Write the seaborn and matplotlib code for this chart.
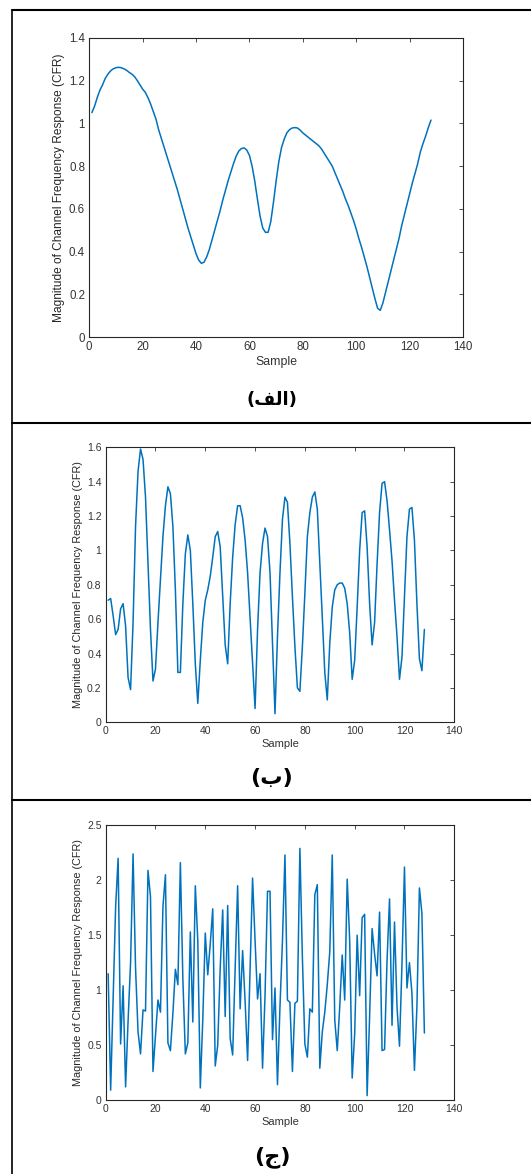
import numpy as np
import pandas as pd
import seaborn as sns
from matplotlib import pyplot as plt
from matplotlib.lines import Line2D
from matplotlib.ticker import FuncFormatter

# smooth channel (panel a)
cfr_a = [
    1.05, 1.08, 1.12, 1.155, 1.18, 1.21, 1.23, 1.245, 1.255, 1.26,
    1.262, 1.26, 1.255, 1.248, 1.238, 1.23, 1.218, 1.20, 1.18, 1.16,
    1.145, 1.12, 1.09, 1.055, 1.02, 0.97, 0.93, 0.89, 0.85, 0.81,
    0.77, 0.73, 0.69, 0.645, 0.60, 0.555, 0.51, 0.47, 0.43, 0.39,
    0.36, 0.345, 0.35, 0.375, 0.41, 0.455, 0.50, 0.545, 0.59, 0.64,
    0.685, 0.73, 0.77, 0.81, 0.845, 0.87, 0.882, 0.885, 0.875, 0.85,
    0.80, 0.73, 0.645, 0.565, 0.51, 0.49, 0.49, 0.54, 0.63, 0.73,
    0.82, 0.885, 0.925, 0.955, 0.97, 0.978, 0.98, 0.978, 0.968, 0.955,
    0.945, 0.935, 0.925, 0.915, 0.905, 0.895, 0.88, 0.86, 0.84, 0.82,
    0.80, 0.77, 0.74, 0.71, 0.68, 0.645, 0.615, 0.58, 0.545, 0.505,
    0.46, 0.42, 0.375, 0.33, 0.28, 0.23, 0.18, 0.135, 0.125, 0.16,
    0.21, 0.26, 0.31, 0.36, 0.41, 0.46, 0.52, 0.57, 0.62, 0.67,
    0.72, 0.765, 0.81, 0.865, 0.905, 0.94, 0.98, 1.015,
]

# moderately selective channel (panel b)
cfr_b = [
    0.71, 0.72, 0.62, 0.51, 0.54, 0.66, 0.69, 0.56, 0.26, 0.19,
    0.58, 1.14, 1.46, 1.59, 1.53, 1.31, 0.93, 0.54, 0.24, 0.31,
    0.58, 0.83, 1.08, 1.26, 1.37, 1.33, 1.14, 0.77, 0.29, 0.29,
    0.69, 0.98, 1.09, 1.00, 0.69, 0.34, 0.11, 0.36, 0.58, 0.71,
    0.77, 0.85, 0.96, 1.08, 1.11, 1.02, 0.73, 0.45, 0.34, 0.69,
    0.96, 1.15, 1.26, 1.26, 1.19, 1.06, 0.87, 0.61, 0.34, 0.08,
    0.54, 0.87, 1.04, 1.13, 1.08, 0.87, 0.46, 0.05, 0.50, 0.87,
    1.18, 1.31, 1.28, 1.04, 0.73, 0.44, 0.20, 0.18, 0.44, 0.75,
    1.08, 1.22, 1.31, 1.34, 1.24, 0.93, 0.61, 0.29, 0.13, 0.46,
    0.67, 0.77, 0.80, 0.81, 0.81, 0.78, 0.69, 0.52, 0.25, 0.36,
    0.67, 1.00, 1.22, 1.23, 1.02, 0.69, 0.45, 0.58, 0.92, 1.22,
    1.39, 1.40, 1.29, 1.12, 0.94, 0.71, 0.50, 0.25, 0.38, 0.73,
    1.08, 1.24, 1.25, 1.06, 0.69, 0.37, 0.30, 0.54,
]

# highly selective channel (panel c)
cfr_c = [
    1.15, 0.09, 0.91, 1.76, 2.20, 0.51, 1.04, 0.12, 0.72, 1.25,
    2.24, 1.20, 0.62, 0.42, 0.82, 0.81, 2.09, 1.85, 0.26, 0.58,
    0.91, 0.80, 1.76, 2.05, 0.52, 0.45, 0.79, 1.19, 1.05, 2.16,
    1.10, 0.42, 0.52, 1.53, 0.71, 1.95, 1.45, 0.11, 0.73, 1.52,
    1.14, 1.42, 1.74, 0.31, 0.50, 1.20, 1.73, 0.76, 1.77, 0.56,
    0.41, 1.20, 1.95, 0.83, 1.36, 0.90, 0.36, 1.18, 2.02, 1.45,
    0.92, 1.15, 0.29, 0.95, 1.90, 1.90, 0.55, 1.02, 0.14, 0.85,
    1.45, 2.23, 0.91, 0.89, 0.26, 0.88, 0.90, 2.29, 1.30, 0.51,
    0.39, 0.83, 0.80, 1.87, 1.96, 0.29, 0.62, 0.80, 1.05, 1.35,
    2.23, 0.73, 0.45, 0.85, 1.32, 0.91, 2.01, 1.45, 0.20, 0.60,
    1.50, 0.95, 1.66, 1.69, 0.04, 0.76, 1.56, 1.33, 1.13, 1.71,
    0.45, 0.46, 1.27, 1.83, 0.68, 1.62, 0.85, 0.49, 1.24, 2.12,
    1.02, 1.25, 0.97, 0.27, 0.85, 1.93, 1.70, 0.61,
]

samples = np.arange(1, 129)

# matplotlib does no arabic shaping, so use presentation forms in visual order
captions = ["(\ufed2\ufedf\u0627)", "(\u0628)", "(\u062c)"]

sns.set_theme(style="white")
plt.rcParams["font.family"] = ["Liberation Sans", "DejaVu Sans"]

fig = plt.figure(figsize=(5.31, 11.74), dpi=100)

axes_pos = [
    [0.168, 0.7129, 0.704, 0.2549],
    [0.199, 0.3848, 0.6565, 0.2342],
    [0.199, 0.0630, 0.6565, 0.2340],
]
ylims = [(0, 1.4, 0.2), (0, 1.6, 0.2), (0, 2.5, 0.5)]
fsizes = [8.3, 7.5, 7.5]
cap_y = [400, 778, 1157]
cap_size = [13, 16, 16]

for i, vals in enumerate([cfr_a, cfr_b, cfr_c]):
    ax = fig.add_axes(axes_pos[i])
    df = pd.DataFrame({"Sample": samples, "CFR": vals})
    sns.lineplot(data=df, x="Sample", y="CFR", color="#0072BD", lw=1.1, ax=ax)
    lo, hi, st = ylims[i]
    ax.set_xlim(0, 140)
    ax.set_ylim(lo, hi)
    ax.set_xticks(np.arange(0, 141, 20))
    ax.set_yticks(np.arange(lo, hi + st / 2, st))
    ax.yaxis.set_major_formatter(FuncFormatter(lambda v, p: f"{v:g}"))
    ax.tick_params(direction="in", length=3, width=0.6, top=True, right=True,
                   labelsize=fsizes[i], colors="#333333", pad=3)
    for s in ax.spines.values():
        s.set_color("#262626")
        s.set_linewidth(0.8)
    ax.set_xlabel("Sample", fontsize=fsizes[i] + 0.5, color="#333333", labelpad=2)
    ax.set_ylabel("Magnitude of Channel Frequency Response (CFR)",
                  fontsize=fsizes[i] + 0.3, color="#262626", labelpad=3)
    fig.text(272 / 531, 1 - cap_y[i] / 1174, captions[i], ha="center", va="center",
             fontsize=cap_size[i], fontweight="bold", family=["DejaVu Sans"], color="black")

# frame lines around the panels
fig.add_artist(Line2D([0.0235, 1.0], [1 - 10 / 1174] * 2, color="black", lw=1.5))
fig.add_artist(Line2D([0.0235, 0.0235], [1 - 10 / 1174, 0.0], color="black", lw=1.2))
for yy in [423, 800]:
    fig.add_artist(Line2D([0.0235, 1.0], [1 - yy / 1174] * 2, color="black", lw=1.5))

fig.savefig("out.png", dpi=100)
